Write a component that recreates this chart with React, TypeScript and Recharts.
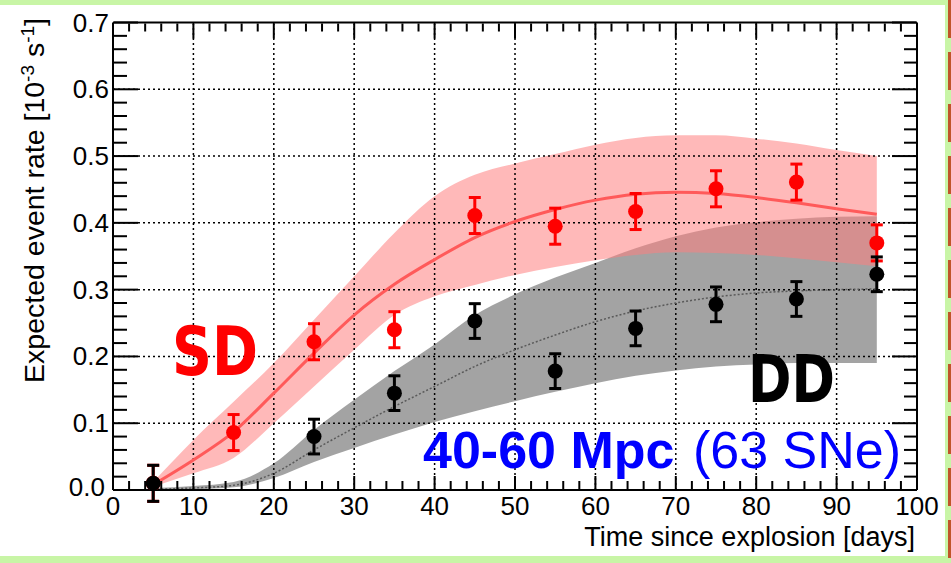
import {
  ComposedChart, Area, Line, Scatter, ErrorBar, XAxis, YAxis, ReferenceLine,
} from "recharts";

// model curves (days since explosion, sampled every 5 days)
const curveDays = [5, 10, 15, 20, 25, 30, 35, 40, 45, 50, 55, 60, 65, 70, 75, 80, 85, 90, 95];
const sdMid  = [0.008, 0.045, 0.087, 0.145, 0.205, 0.262, 0.308, 0.345, 0.378, 0.402, 0.42, 0.434, 0.443, 0.446, 0.444, 0.438, 0.43, 0.421, 0.413];
const sdLow  = [0.005, 0.025, 0.048, 0.1, 0.155, 0.21, 0.262, 0.29, 0.307, 0.322, 0.334, 0.344, 0.352, 0.356, 0.355, 0.352, 0.347, 0.341, 0.335];
const sdHigh = [0.012, 0.075, 0.132, 0.19, 0.255, 0.32, 0.385, 0.44, 0.472, 0.489, 0.503, 0.517, 0.527, 0.531, 0.531, 0.526, 0.519, 0.509, 0.5];
const ddMid  = [0.001, 0.003, 0.007, 0.025, 0.06, 0.093, 0.125, 0.155, 0.185, 0.21, 0.232, 0.252, 0.268, 0.28, 0.289, 0.295, 0.298, 0.3, 0.301];
const ddLow  = [0, 0.001, 0.004, 0.018, 0.042, 0.063, 0.083, 0.102, 0.118, 0.133, 0.147, 0.16, 0.171, 0.179, 0.185, 0.188, 0.19, 0.19, 0.19];
const ddHigh = [0.003, 0.006, 0.012, 0.04, 0.09, 0.135, 0.178, 0.218, 0.262, 0.293, 0.318, 0.34, 0.362, 0.38, 0.393, 0.401, 0.406, 0.409, 0.41];

// simulated data points
const sdDays = [5, 15, 25, 35, 45, 55, 65, 75, 85, 95];
const sdRate = [0.01, 0.086, 0.222, 0.24, 0.411, 0.395, 0.417, 0.451, 0.461, 0.37];
const sdErr  = [0.027, 0.027, 0.027, 0.027, 0.027, 0.027, 0.027, 0.027, 0.027, 0.027];
const ddDays = [5, 25, 35, 45, 55, 65, 75, 85, 95];
const ddRate = [0.01, 0.08, 0.145, 0.253, 0.178, 0.242, 0.278, 0.286, 0.323];
const ddErr  = [0.027, 0.026, 0.026, 0.026, 0.026, 0.026, 0.026, 0.026, 0.026];

// axes
const xMajor = [0, 10, 20, 30, 40, 50, 60, 70, 80, 90, 100];
const yMajor = [0, 0.1, 0.2, 0.3, 0.4, 0.5, 0.6, 0.7];
const yLabels = ["0.0", "0.1", "0.2", "0.3", "0.4", "0.5", "0.6", "0.7"];
const xGrid = [10, 20, 30, 40, 50, 60, 70, 80, 90];
const yGrid = [0.1, 0.2, 0.3, 0.4, 0.5, 0.6];
const xTicks = Array.from({ length: 51 }, (_, i) => i * 2);
const yTicks = Array.from({ length: 36 }, (_, i) => (i * 2) / 100);

const curves = curveDays.map((d, i) => ({
  x: d,
  sdBand: [sdLow[i], sdHigh[i]],
  ddBand: [ddLow[i], ddHigh[i]],
  sdMid: sdMid[i],
  ddMid: ddMid[i],
}));
const sdPoints = sdDays.map((d, i) => ({ x: d, y: sdRate[i], err: sdErr[i] }));
const ddPoints = ddDays.map((d, i) => ({ x: d, y: ddRate[i], err: ddErr[i] }));

const FONT = "'Liberation Sans', Arial, sans-serif";
const FUN = "'DejaVu Sans', sans-serif";

const isMajorX = (v: number) => xMajor.includes(v);
const isMajorY = (v: number) => yMajor.some(m => Math.abs(m - v) < 1e-6);

// eslint-disable-next-line @typescript-eslint/no-explicit-any
const bottomTick = (p: any) => {
  const { x, y, payload } = p;
  const major = isMajorX(payload.value);
  return (
    <g>
      <line x1={x} x2={x} y1={y - 1} y2={y - 1 - (major ? 13 : 8)} stroke="#000" strokeWidth={2} />
      {major && (
        <text x={x} y={y + 25} textAnchor="middle" fontSize={26} fontFamily={FONT} fill="#000">
          {payload.value}
        </text>
      )}
    </g>
  );
};

// eslint-disable-next-line @typescript-eslint/no-explicit-any
const topTick = (p: any) => {
  const { x, y, payload } = p;
  const major = isMajorX(payload.value);
  return <line x1={x} x2={x} y1={y + 1} y2={y + 1 + (major ? 15 : 8)} stroke="#000" strokeWidth={2} />;
};

// eslint-disable-next-line @typescript-eslint/no-explicit-any
const leftTick = (p: any) => {
  const { x, y, payload } = p;
  const major = isMajorY(payload.value);
  const idx = yMajor.findIndex(m => Math.abs(m - payload.value) < 1e-6);
  return (
    <g>
      <line x1={x + 1} x2={x + 1 + (major ? 24 : 13)} y1={y} y2={y} stroke="#000" strokeWidth={2} />
      {major && (
        <text x={idx === 0 ? x - 8 : x - 4} y={idx === 0 ? y + 6 : y + 9} textAnchor="end"
          fontSize={26} fontFamily={FONT} fill="#000">
          {yLabels[idx]}
        </text>
      )}
    </g>
  );
};

// eslint-disable-next-line @typescript-eslint/no-explicit-any
const rightTick = (p: any) => {
  const { x, y, payload } = p;
  const major = isMajorY(payload.value);
  return <line x1={x - 1} x2={x - 1 - (major ? 24 : 12)} y1={y} y2={y} stroke="#000" strokeWidth={2} />;
};

// eslint-disable-next-line @typescript-eslint/no-explicit-any
const dot = (color: string) => (p: any) => <circle cx={p.cx} cy={p.cy} r={7.5} fill={color} />;

const axisStroke = { stroke: "#000", strokeWidth: 2 };

export default function App() {
  return (
    <div
      style={{
        position: "absolute", left: 0, top: 0, width: 951, height: 563,
        background: "#c8f5a6", overflow: "hidden",
      }}
    >
      <div style={{ position: "absolute", left: 0, top: 5, width: 945, height: 551, background: "#fff" }} />
      <div
        style={{
          position: "absolute", left: 948, top: 0, width: 3, height: 563,
          background: "repeating-linear-gradient(#c0552a 0 38px, #c8f5a6 38px 52px)",
        }}
      />
      <div style={{ position: "absolute", left: 0, top: 0 }}>
        <ComposedChart
          width={951}
          height={563}
          data={curves}
          margin={{ top: 21.5, right: 33, bottom: 72, left: 112 }}
        >
          <XAxis
            dataKey="x" type="number" domain={[0, 100]} ticks={xTicks} interval={0}
            height={1} tickSize={0} tickMargin={0} tick={bottomTick}
            axisLine={axisStroke} tickLine={false} allowDataOverflow
          />
          <XAxis
            xAxisId="top" orientation="top" dataKey="x" type="number" domain={[0, 100]}
            ticks={xTicks} interval={0} height={1} tickSize={0} tickMargin={0} tick={topTick}
            axisLine={axisStroke} tickLine={false} allowDataOverflow
          />
          <YAxis
            type="number" domain={[0, 0.7]} ticks={yTicks} interval={0}
            width={1} tickSize={0} tickMargin={0} tick={leftTick}
            axisLine={axisStroke} tickLine={false} allowDataOverflow
          />
          <YAxis
            yAxisId="right" orientation="right" type="number" domain={[0, 0.7]} ticks={yTicks}
            interval={0} width={1} tickSize={0} tickMargin={0} tick={rightTick}
            axisLine={axisStroke} tickLine={false} allowDataOverflow
          />

          {xGrid.map(v => (
            <ReferenceLine key={`gx${v}`} x={v} stroke="#000" strokeWidth={1.5} strokeDasharray="2 3" />
          ))}
          {yGrid.map(v => (
            <ReferenceLine key={`gy${v}`} y={v} stroke="#000" strokeWidth={1.5} strokeDasharray="2 3" />
          ))}

          <Area
            dataKey="ddBand" type="monotone" stroke="none" fill="#808080" fillOpacity={0.72}
            isAnimationActive={false}
          />
          <Area
            dataKey="sdBand" type="monotone" stroke="none" fill="#ff8080" fillOpacity={0.55}
            isAnimationActive={false}
          />
          <Line
            dataKey="ddMid" type="monotone" stroke="#5a5a5a" strokeWidth={1.5} strokeDasharray="2 2"
            dot={false} isAnimationActive={false}
          />
          <Line
            dataKey="sdMid" type="monotone" stroke="#ff5a5a" strokeWidth={3}
            dot={false} isAnimationActive={false}
          />
          <Scatter data={sdPoints} dataKey="y" shape={dot("#ff0000")} isAnimationActive={false}>
            <ErrorBar dataKey="err" direction="y" width={6} strokeWidth={3} stroke="#ff0000" />
          </Scatter>
          <Scatter data={ddPoints} dataKey="y" shape={dot("#000")} isAnimationActive={false}>
            <ErrorBar dataKey="err" direction="y" width={6} strokeWidth={3} stroke="#000" />
          </Scatter>
        </ComposedChart>
      </div>

      <svg
        width={951}
        height={563}
        style={{ position: "absolute", left: 0, top: 0, pointerEvents: "none" }}
      >
        <text
          x={44} y={18} transform="rotate(-90 44 18)" textAnchor="end"
          fontSize={28.5} fontFamily={FONT} fill="#000"
        >
          Expected event rate [10<tspan fontSize={19} dy={-10}>-3</tspan>
          <tspan dy={10}> s</tspan>
          <tspan fontSize={19} dy={-10}>-1</tspan>
          <tspan dy={10}>]</tspan>
        </text>
        <text x={915} y={546} textAnchor="end" fontSize={27} fontFamily={FONT} fill="#000">
          Time since explosion [days]
        </text>

        <text x={172} y={375} fontSize={68} fontWeight="bold" fontFamily={FUN} fill="#ff0000"
          textLength={86} lengthAdjust="spacingAndGlyphs">SD</text>
        <text x={748} y={402} fontSize={66} fontWeight="bold" fontFamily={FUN} fill="#000"
          textLength={87} lengthAdjust="spacingAndGlyphs">DD</text>
        <text x={423} y={468} fontSize={52} fontWeight="bold" fontFamily={FONT} fill="#0000ff">
          40-60 Mpc
        </text>
        <text x={693} y={468} fontSize={52} fontFamily={FONT} fill="#0000ff">
          (63 SNe)
        </text>
      </svg>
    </div>
  );
}
